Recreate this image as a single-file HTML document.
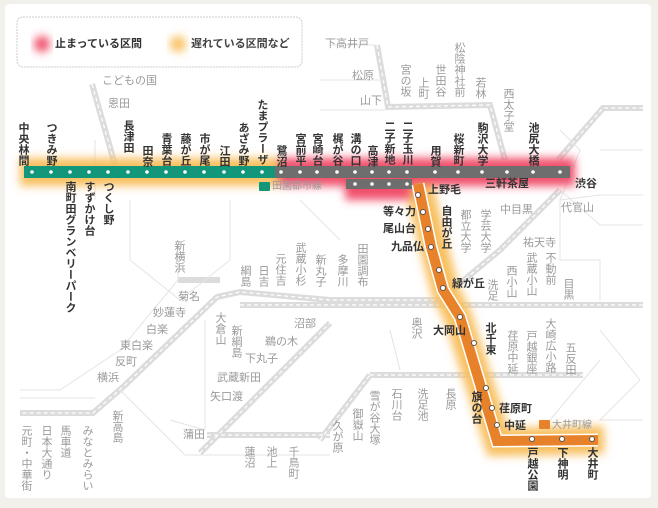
<!DOCTYPE html>
<html><head><meta charset="utf-8"><style>
body{margin:0;width:658px;height:508px;background:#f1f0eb;overflow:hidden;font-family:"Liberation Sans","Noto Sans CJK JP",sans-serif}
#p{position:absolute;left:5px;top:4px;width:646px;height:494px;background:#fff;border-radius:4px}
svg{position:absolute;left:0;top:0}
.t{position:absolute;font-size:11px;line-height:12px;white-space:nowrap;font-weight:bold}
.v{writing-mode:vertical-rl;width:12px;text-align:start}
.d{color:#333}.g{color:#9a9a9a;font-weight:normal}
</style></head><body>
<div id="p"></div>
<svg width="658" height="508">
<defs><filter id="b" x="-20%" y="-60%" width="140%" height="220%"><feGaussianBlur stdDeviation="4.5"/></filter></defs>
<rect x="17" y="17" width="285" height="50" rx="6" fill="#fff" stroke="#ccc" stroke-dasharray="2 1"/>
<circle cx="42" cy="44" r="8" fill="#f0506a" filter="url(#b)"/>
<circle cx="178" cy="44" r="8" fill="#f8c060" filter="url(#b)"/>
<g fill="none" stroke="#dcdcdc" stroke-width="6">
<path d="M92,84 L115,165"/>
<path d="M377,45 L388,107 L490,105 L505,160"/>
<path d="M558,160 L603,108 L643,108"/>
<path d="M560,190 L500,250 L440,300 L330,300 L240,292 L217,297 L123,387 L93,413 L20,413"/>
<path d="M240,305 L643,305"/>
<path d="M370,375 L583,375"/>
<path d="M320,440 L370,375"/>
<path d="M200,453 L330,323"/>
<path d="M207,435 L330,435"/>
<path d="M178,280 L220,280"/>
</g>
<g fill="none" stroke="#fff" stroke-width="1.2" stroke-dasharray="4 3">
<path d="M92,84 L115,165"/><path d="M377,45 L388,107 L490,105 L505,160"/><path d="M558,160 L603,108 L643,108"/>
<path d="M560,190 L500,250 L440,300 L330,300 L240,292 L217,297 L123,387 L93,413 L20,413"/>
<path d="M240,305 L643,305"/><path d="M370,375 L583,375"/><path d="M320,440 L370,375"/><path d="M200,453 L330,323"/><path d="M207,435 L330,435"/>
</g>
<g fill="none" stroke="#e4e4e4" stroke-width="1">
<path d="M330,45 L375,45"/><path d="M320,80 L385,80"/><path d="M320,110 L385,110"/>
<path d="M95,140 L95,200"/><path d="M130,200 L130,260 L180,300 L230,260 L230,200"/>
<path d="M178,245 L178,280 L120,350 L60,390 L20,390"/><path d="M20,398 L95,398"/>
<path d="M120,390 L185,455 L330,455"/><path d="M205,320 L205,430 L170,420"/>
<path d="M560,190 L600,225 L643,225"/><path d="M560,200 L600,195 L643,195"/>
<path d="M560,130 L580,150 L560,200 L560,260 L600,260 L600,300"/>
<path d="M600,330 L640,380 L600,420 L643,420"/>
<path d="M390,330 L400,370"/><path d="M300,200 L340,240"/>
<path d="M600,360 L550,420"/><path d="M643,150 L600,150"/>
</g>
<g fill="none" filter="url(#b)">
<path d="M20,172 L278,172" stroke="#f8c060" stroke-width="28"/>
<path d="M418,183 L434,248 L445,290 L458,317 L498,442 L604,440" stroke="#f8c060" stroke-width="28"/>
<path d="M278,172 L575,172 M345,186 L412,186" stroke="#f0506a" stroke-width="28"/>
</g>
<rect x="24" y="166" width="252" height="12" fill="#12977a"/>
<rect x="275" y="166" width="295" height="12" fill="#6e6e6e"/>
<rect x="346" y="179" width="66" height="10" fill="#6e6e6e"/>
<path d="M418,184 L431,247 L443,290 L460,317 L497,441 L598,440" fill="none" stroke="#fff" stroke-width="13"/>
<path d="M418,184 L431,247 L443,290 L460,317 L497,441 L598,440" fill="none" stroke="#e8822a" stroke-width="10"/>
<g fill="#fff">
<circle cx="32" cy="172" r="1.8"/><circle cx="51" cy="172" r="1.8"/><circle cx="70" cy="172" r="1.8"/><circle cx="89" cy="172" r="1.8"/><circle cx="108" cy="172" r="1.8"/><circle cx="128" cy="172" r="1.8"/><circle cx="147" cy="172" r="1.8"/><circle cx="166" cy="172" r="1.8"/><circle cx="185" cy="172" r="1.8"/><circle cx="204" cy="172" r="1.8"/><circle cx="224" cy="172" r="1.8"/><circle cx="243" cy="172" r="1.8"/><circle cx="262" cy="172" r="1.8"/>
<circle cx="281" cy="172" r="1.8"/><circle cx="300" cy="172" r="1.8"/><circle cx="317" cy="172" r="1.8"/><circle cx="337" cy="172" r="1.8"/><circle cx="355" cy="172" r="1.8"/><circle cx="372" cy="172" r="1.8"/><circle cx="389" cy="172" r="1.8"/><circle cx="407" cy="172" r="1.8"/><circle cx="435" cy="172" r="1.8"/><circle cx="458" cy="172" r="1.8"/><circle cx="482" cy="172" r="1.8"/><circle cx="507" cy="172" r="1.8"/><circle cx="533" cy="172" r="1.8"/><circle cx="560" cy="172" r="1.8"/>
<circle cx="355" cy="184" r="1.8"/><circle cx="372" cy="184" r="1.8"/><circle cx="389" cy="184" r="1.8"/><circle cx="407" cy="184" r="1.8"/>
</g>
<g fill="#fff" stroke="#555" stroke-width="1">
<circle cx="418" cy="195" r="2.5"/><circle cx="423" cy="212" r="2.5"/><circle cx="428" cy="229" r="2.5"/><circle cx="431" cy="247" r="2.5"/><circle cx="439" cy="270" r="2.5"/><circle cx="443" cy="288" r="2.5"/><circle cx="460" cy="317" r="2.5"/><circle cx="474" cy="343" r="2.5"/><circle cx="486" cy="388" r="2.5"/><circle cx="492" cy="408" r="2.5"/><circle cx="497" cy="425" r="2.5"/><circle cx="532" cy="439" r="2.5"/><circle cx="562" cy="439" r="2.5"/><circle cx="592" cy="439" r="2.5"/>
</g>
<rect x="259" y="182" width="11" height="9" rx="1" fill="#12977a"/>
<rect x="539" y="420" width="11" height="9" rx="1" fill="#e8822a"/>
</svg>
<div class="t d" style="left:55px;top:38px;font-size:11px">止まっている区間</div>
<div class="t" style="left:191px;top:38px;font-size:11px;color:#444">遅れている区間など</div>
<div class="t g" style="left:272px;top:181px;font-size:10px">田園都市線</div>
<div class="t g" style="left:552px;top:420px;font-size:10px">大井町線</div>
<div class="t d v" style="left:17px;top:122px">中央林間</div>
<div class="t d v" style="left:45px;top:122px">つきみ野</div>
<div class="t d v" style="left:122px;top:120px">長津田</div>
<div class="t d v" style="left:141px;top:145px">田奈</div>
<div class="t d v" style="left:160px;top:133px">青葉台</div>
<div class="t d v" style="left:179px;top:133px">藤が丘</div>
<div class="t d v" style="left:198px;top:133px">市が尾</div>
<div class="t d v" style="left:218px;top:145px">江田</div>
<div class="t d v" style="left:237px;top:122px">あざみ野</div>
<div class="t d v" style="left:256px;top:99px">たまプラーザ</div>
<div class="t d v" style="left:275px;top:145px">鷺沼</div>
<div class="t d v" style="left:294px;top:133px">宮前平</div>
<div class="t d v" style="left:311px;top:133px">宮崎台</div>
<div class="t d v" style="left:331px;top:133px">梶が谷</div>
<div class="t d v" style="left:349px;top:133px">溝の口</div>
<div class="t d v" style="left:366px;top:145px">高津</div>
<div class="t d v" style="left:383px;top:121px">二子新地</div>
<div class="t d v" style="left:401px;top:121px">二子玉川</div>
<div class="t d v" style="left:429px;top:145px">用賀</div>
<div class="t d v" style="left:452px;top:133px">桜新町</div>
<div class="t d v" style="left:476px;top:122px">駒沢大学</div>
<div class="t d v" style="left:527px;top:122px">池尻大橋</div>
<div class="t d" style="left:485px;top:178px">三軒茶屋</div>
<div class="t d" style="left:575px;top:178px">渋谷</div>
<div class="t d v" style="left:64px;top:181px">南町田グランベリーパーク</div>
<div class="t d v" style="left:83px;top:181px">すずかけ台</div>
<div class="t d v" style="left:102px;top:181px">つくし野</div>
<div class="t d" style="left:428px;top:184px">上野毛</div>
<div class="t d" style="left:383px;top:206px">等々力</div>
<div class="t d" style="left:383px;top:223px">尾山台</div>
<div class="t d" style="left:391px;top:241px">九品仏</div>
<div class="t d v" style="left:440px;top:205px">自由が丘</div>
<div class="t d" style="left:452px;top:278px">緑が丘</div>
<div class="t d" style="left:433px;top:325px">大岡山</div>
<div class="t d v" style="left:484px;top:322px">北千束</div>
<div class="t d v" style="left:470px;top:391px">旗の台</div>
<div class="t d" style="left:499px;top:403px">荏原町</div>
<div class="t d" style="left:504px;top:420px">中延</div>
<div class="t d v" style="left:526px;top:447px">戸越公園</div>
<div class="t d v" style="left:556px;top:447px">下神明</div>
<div class="t d v" style="left:586px;top:447px">大井町</div>
<div class="t g" style="left:102px;top:75px">こどもの国</div>
<div class="t g" style="left:108px;top:98px">恩田</div>
<div class="t g" style="left:325px;top:38px">下高井戸</div>
<div class="t g" style="left:352px;top:70px">松原</div>
<div class="t g" style="left:360px;top:95px">山下</div>
<div class="t g v" style="left:399px;top:64px">宮の坂</div>
<div class="t g v" style="left:417px;top:77px">上町</div>
<div class="t g v" style="left:434px;top:64px">世田谷</div>
<div class="t g v" style="left:453px;top:42px">松陰神社前</div>
<div class="t g v" style="left:474px;top:77px">若林</div>
<div class="t g v" style="left:502px;top:88px">西太子堂</div>
<div class="t g" style="left:500px;top:204px">中目黒</div>
<div class="t g" style="left:561px;top:202px">代官山</div>
<div class="t g v" style="left:459px;top:209px">都立大学</div>
<div class="t g v" style="left:479px;top:209px">学芸大学</div>
<div class="t g" style="left:523px;top:237px">祐天寺</div>
<div class="t g v" style="left:505px;top:265px">西小山</div>
<div class="t g v" style="left:525px;top:252px">武蔵小山</div>
<div class="t g v" style="left:544px;top:252px">不動前</div>
<div class="t g v" style="left:562px;top:278px">目黒</div>
<div class="t g v" style="left:486px;top:279px">洗足</div>
<div class="t g v" style="left:410px;top:317px">奥沢</div>
<div class="t g v" style="left:506px;top:330px">荏原中延</div>
<div class="t g v" style="left:525px;top:330px">戸越銀座</div>
<div class="t g v" style="left:544px;top:318px">大崎広小路</div>
<div class="t g v" style="left:564px;top:342px">五反田</div>
<div class="t g v" style="left:444px;top:388px">長原</div>
<div class="t g v" style="left:416px;top:388px">洗足池</div>
<div class="t g v" style="left:390px;top:388px">石川台</div>
<div class="t g v" style="left:368px;top:390px">雪が谷大塚</div>
<div class="t g v" style="left:351px;top:408px">御嶽山</div>
<div class="t g v" style="left:331px;top:420px">久が原</div>
<div class="t g v" style="left:173px;top:240px">新横浜</div>
<div class="t g v" style="left:239px;top:265px">綱島</div>
<div class="t g v" style="left:257px;top:265px">日吉</div>
<div class="t g v" style="left:274px;top:253px">元住吉</div>
<div class="t g v" style="left:294px;top:242px">武蔵小杉</div>
<div class="t g v" style="left:314px;top:254px">新丸子</div>
<div class="t g v" style="left:336px;top:254px">多摩川</div>
<div class="t g v" style="left:356px;top:243px">田園調布</div>
<div class="t g" style="left:178px;top:291px">菊名</div>
<div class="t g" style="left:153px;top:307px">妙蓮寺</div>
<div class="t g" style="left:146px;top:324px">白楽</div>
<div class="t g" style="left:120px;top:340px">東白楽</div>
<div class="t g" style="left:115px;top:356px">反町</div>
<div class="t g" style="left:97px;top:372px">横浜</div>
<div class="t g v" style="left:111px;top:410px">新高島</div>
<div class="t g v" style="left:81px;top:425px">みなとみらい</div>
<div class="t g v" style="left:59px;top:425px">馬車道</div>
<div class="t g v" style="left:40px;top:425px">日本大通り</div>
<div class="t g v" style="left:20px;top:425px">元町・中華街</div>
<div class="t g v" style="left:214px;top:312px">大倉山</div>
<div class="t g v" style="left:230px;top:325px">新綱島</div>
<div class="t g" style="left:294px;top:318px">沼部</div>
<div class="t g" style="left:265px;top:336px">鵜の木</div>
<div class="t g" style="left:245px;top:353px">下丸子</div>
<div class="t g" style="left:217px;top:372px">武蔵新田</div>
<div class="t g" style="left:210px;top:391px">矢口渡</div>
<div class="t g" style="left:183px;top:429px">蒲田</div>
<div class="t g v" style="left:243px;top:446px">蓮沼</div>
<div class="t g v" style="left:265px;top:446px">池上</div>
<div class="t g v" style="left:287px;top:446px">千鳥町</div>
</body></html>
